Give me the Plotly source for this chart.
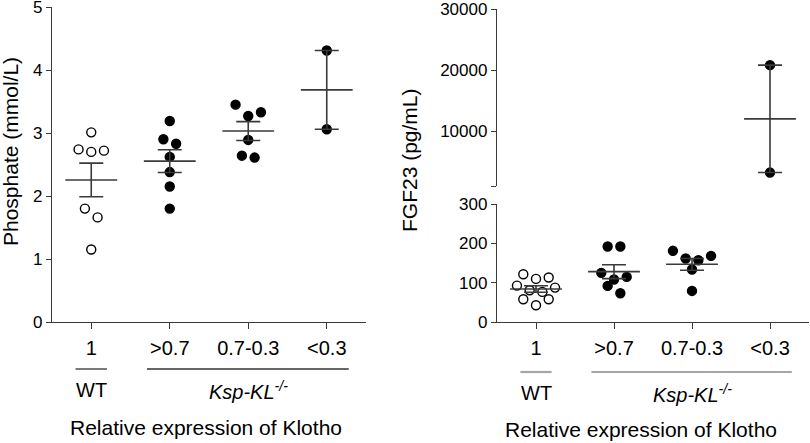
import numpy as np
import plotly.graph_objects as go

# ---------------- data ----------------
categories = ["1", ">0.7", "0.7-0.3", "<0.3"]
group_labels = ["WT", "<i>Ksp-KL<sup>-/-</sup></i>"]
x_title = "Relative expression of Klotho"
phos_title = "Phosphate (mmol/L)"
fgf_title = "FGF23 (pg/mL)"

phos_wt = [3.01, 2.74, 2.72, 2.70, 1.80, 1.66, 1.15]
phos_gt07 = [3.19, 2.90, 2.83, 2.62, 2.38, 2.15, 1.80]
phos_mid = [3.45, 3.33, 3.27, 2.89, 2.64, 2.61]
phos_lt03 = [4.31, 3.06]

fgf_wt = [121.5, 113, 109.6, 92.6, 87.5, 80.7, 76.5, 57.8, 57.8, 42.5]
fgf_gt07 = [192, 192, 125, 114.7, 108, 91.8, 73]
fgf_mid = [181, 168, 161.5, 157, 133.4, 79]
fgf_lt03 = [20800, 3200]

phos_ticks = [0, 1, 2, 3, 4, 5]
fgf_low_ticks = [0, 100, 200, 300]
fgf_high_ticks = [10000, 20000, 30000]

# ---------------- layout geometry (px in an 810x443 canvas) ----------------
W, H = 810, 443
FONT = "Arial, Liberation Sans, sans-serif"
AX = "#3a3a3a"


def px(x):
    return x / W


def py(y):
    return 1 - y / H


L_X = (52, 366)
L_Y = (322, 7)
R_X = (497, 809)
R_LOW_Y = (322, 204)
R_HIGH_Y = (186, 9)
HIGH_RANGE = [1000, 30000]


def swarm_offsets(values, px_per_y, px_per_x, row_px, step_px):
    v = np.asarray(values, dtype=float)
    order = np.argsort(-v, kind="stable")
    rows = []
    for i in order:
        if rows and (v[rows[-1][0]] - v[i]) * px_per_y <= row_px:
            rows[-1].append(i)
        else:
            rows.append([i])
    off = np.zeros(len(v))
    for row in rows:
        n = len(row)
        slots = [k - (n - 1) / 2 for k in range(n)]
        slots.sort(key=lambda s: (-abs(s), s))
        for idx, s in zip(row, slots):
            off[idx] = s * step_px / px_per_x
    return off


fig = go.Figure()


def add_group(values, cat_idx, xaxis, yaxis, open_marker, ppy, ppx, row_px):
    vals = np.asarray(values, dtype=float)
    xs = cat_idx + swarm_offsets(vals, ppy, ppx, row_px, 12.7)
    fig.add_trace(go.Scatter(
        x=xs, y=vals, mode="markers", xaxis=xaxis, yaxis=yaxis,
        marker=dict(size=9, symbol="circle",
                    color="white" if open_marker else "black",
                    line=dict(width=1.4, color="black")),
        hoverinfo="skip", showlegend=False, cliponaxis=False))
    mean = vals.mean()
    sem = vals.std(ddof=1) / np.sqrt(len(vals))
    fig.add_trace(go.Scatter(
        x=[cat_idx], y=[mean], mode="markers", xaxis=xaxis, yaxis=yaxis,
        marker=dict(symbol="line-ew", size=37, color=AX,
                    line=dict(width=1.6, color=AX)),
        error_y=dict(type="data", array=[sem], width=12, thickness=1.6, color=AX),
        hoverinfo="skip", showlegend=False, cliponaxis=False))


ppx_l = (L_X[1] - L_X[0]) / 4.0
ppy_l = (L_Y[0] - L_Y[1]) / 5.0
ppx_r = (R_X[1] - R_X[0]) / 4.0
ppy_rl = (R_LOW_Y[0] - R_LOW_Y[1]) / 300.0
ppy_rh = (R_HIGH_Y[0] - R_HIGH_Y[1]) / (HIGH_RANGE[1] - HIGH_RANGE[0])

for i, (vals, op) in enumerate([(phos_wt, True), (phos_gt07, False),
                                (phos_mid, False), (phos_lt03, False)]):
    add_group(vals, i, "x", "y", op, ppy_l, ppx_l, 12)

for i, (vals, op) in enumerate([(fgf_wt, True), (fgf_gt07, False), (fgf_mid, False)]):
    add_group(vals, i, "x2", "y2", op, ppy_rl, ppx_r, 11)
add_group(fgf_lt03, 3, "x2", "y3", False, ppy_rh, ppx_r, 11)

axis_common = dict(showgrid=False, zeroline=False, showline=True, linecolor=AX,
                   linewidth=1.3, ticks="outside", tickcolor=AX, tickwidth=1.3,
                   automargin=False, ticklabeloverflow="allow")

fig.update_layout(
    template="none",
    width=W, height=H, margin=dict(l=0, r=0, t=0, b=0, pad=0, autoexpand=False),
    paper_bgcolor="white", plot_bgcolor="white",
    font=dict(family=FONT, color="black"),
    xaxis=dict(domain=[px(L_X[0]), px(L_X[1])], range=[-0.5, 3.5], anchor="y",
               tickvals=list(range(4)), ticktext=categories, ticklen=6,
               tickfont=dict(size=20), ticklabelstandoff=2, **axis_common),
    yaxis=dict(domain=[py(L_Y[0]), py(L_Y[1])], range=[0, 5], anchor="x",
               tickvals=phos_ticks, ticklen=5, tickfont=dict(size=17), **axis_common),
    xaxis2=dict(domain=[px(R_X[0]), px(R_X[1])], range=[-0.5, 3.5], anchor="y2",
                tickvals=list(range(4)), ticktext=categories, ticklen=6,
                tickfont=dict(size=20), ticklabelstandoff=2, **axis_common),
    yaxis2=dict(domain=[py(R_LOW_Y[0]), py(R_LOW_Y[1])], range=[0, 300], anchor="x2",
                tickvals=fgf_low_ticks, ticklen=5, tickfont=dict(size=17), **axis_common),
    yaxis3=dict(domain=[py(R_HIGH_Y[0]), py(R_HIGH_Y[1])], range=HIGH_RANGE, anchor="x2",
                tickvals=[HIGH_RANGE[0]] + fgf_high_ticks,
                ticktext=[""] + [str(t) for t in fgf_high_ticks],
                ticklen=5, tickfont=dict(size=17), **axis_common),
)

# group underlines (in category units), genotype labels, titles
shapes = []
annotations = []
CENTER = dict(xanchor="center", yanchor="middle", showarrow=False)
for xa, color, width, ypx in [("x", "#333333", 1.3, 369), ("x2", "#a6a6a6", 2.2, 372)]:
    shapes.append(dict(type="line", xref=xa, yref="paper", x0=-0.2, x1=0.2,
                       y0=py(ypx), y1=py(ypx), line=dict(color=color, width=width)))
    shapes.append(dict(type="line", xref=xa, yref="paper", x0=0.71, x1=3.28,
                       y0=py(ypx), y1=py(ypx), line=dict(color=color, width=width)))
    annotations.append(dict(text=group_labels[0], xref=xa, yref="paper", x=0,
                            y=py(ypx + 21), font=dict(size=20), **CENTER))
    annotations.append(dict(text=group_labels[1], xref=xa, yref="paper", x=2,
                            y=py(ypx + 21), font=dict(size=20), **CENTER))

annotations.append(dict(text=x_title, xref="paper", yref="paper", x=px(206), y=py(427),
                        font=dict(size=21), **CENTER))
annotations.append(dict(text=x_title, xref="paper", yref="paper", x=px(641), y=py(429),
                        font=dict(size=21), **CENTER))
annotations.append(dict(text=phos_title, xref="paper", yref="paper", x=px(10), y=py(152),
                        textangle=-90, font=dict(size=21), **CENTER))
annotations.append(dict(text=fgf_title, xref="paper", yref="paper", x=px(410), y=py(160),
                        textangle=-90, font=dict(size=21), **CENTER))

fig.update_layout(shapes=shapes, annotations=annotations)

fig.write_html(
    "out.html",
    config={"responsive": False, "displayModeBar": False},
    post_script=(
        "document.documentElement.style.margin='0';"
        "document.body.style.margin='0';"
        "document.body.style.overflow='hidden';"
        "var d=document.getElementById('{plot_id}');"
        "d.style.position='fixed';d.style.left='0px';d.style.top='0px';"
    ),
)
